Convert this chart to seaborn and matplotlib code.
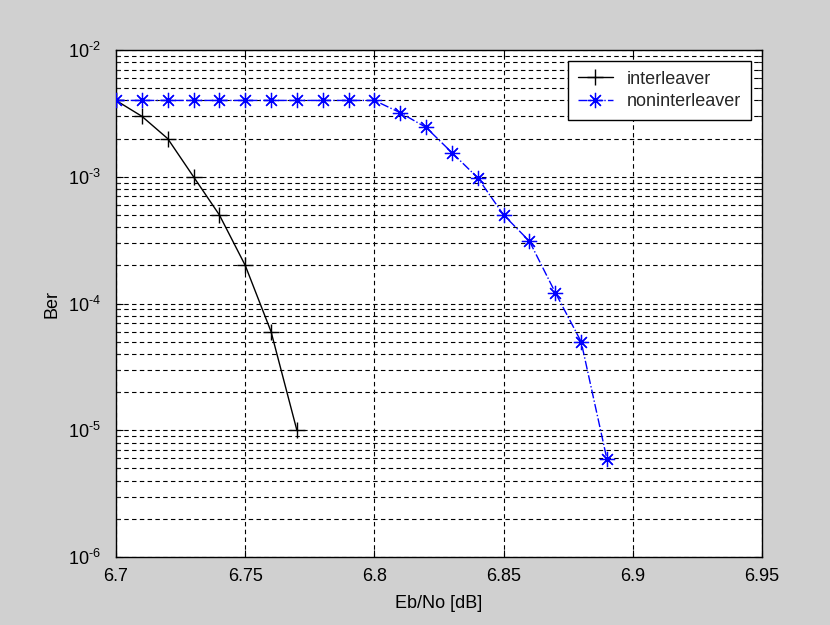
import numpy as np
import pandas as pd
import matplotlib
matplotlib.use("Agg")
import matplotlib.pyplot as plt
from matplotlib.ticker import (LogLocator, FixedLocator, FixedFormatter,
                               NullFormatter, FuncFormatter)
import seaborn as sns

# Eb/No sweep (dB) and measured bit error rates
ebno_inter = [6.70, 6.71, 6.72, 6.73, 6.74, 6.75, 6.76, 6.77]
ber_inter = [4.0e-3, 3.0e-3, 2.0e-3, 1.0e-3, 5.0e-4, 2.0e-4, 6.0e-5, 1.0e-5]

ebno_nointer = [6.70, 6.71, 6.72, 6.73, 6.74, 6.75, 6.76, 6.77, 6.78, 6.79,
                6.80, 6.81, 6.82, 6.83, 6.84, 6.85, 6.86, 6.87, 6.88, 6.89]
ber_nointer = [4.0e-3, 4.0e-3, 4.0e-3, 4.0e-3, 4.0e-3, 4.0e-3, 4.0e-3, 4.0e-3,
               4.0e-3, 4.0e-3, 4.0e-3, 3.2e-3, 2.45e-3, 1.55e-3, 9.8e-4,
               5.0e-4, 3.1e-4, 1.22e-4, 5.0e-5, 5.9e-6]

x_ticks = [6.70, 6.75, 6.80, 6.85, 6.90, 6.95]
x_tick_labels = ["6.7", "6.75", "6.8", "6.85", "6.9", "6.95"]

sns.set_theme(style="white")
plt.rcParams["font.family"] = ["Liberation Sans", "DejaVu Sans"]
plt.rcParams["mathtext.fontset"] = "custom"
plt.rcParams["mathtext.rm"] = "Liberation Sans"
plt.rcParams["mathtext.it"] = "Liberation Sans"
plt.rcParams["mathtext.bf"] = "Liberation Sans"

fig = plt.figure(figsize=(8.3, 6.25), dpi=100, facecolor="#d0d0d0")
ax = fig.add_axes([116 / 830, 1 - 557 / 625, (762 - 116) / 830, (557 - 50) / 625])
ax.set_facecolor("white")

df_inter = pd.DataFrame({"ebno": ebno_inter, "ber": ber_inter})
df_nointer = pd.DataFrame({"ebno": ebno_nointer, "ber": ber_nointer})

# asterisk marker: eight spokes, like a '+' laid over an 'x'
asterisk = (8, 2, 0)

sns.lineplot(data=df_inter, x="ebno", y="ber", ax=ax, color="black",
             marker="+", markersize=12, markeredgewidth=1.0,
             markeredgecolor="black", linewidth=1.0,
             label="interleaver", zorder=3)
sns.lineplot(data=df_nointer, x="ebno", y="ber", ax=ax, color="#0000ff",
             marker=asterisk, markersize=11, markeredgewidth=0.9,
             markeredgecolor="#0000ff", markerfacecolor="#0000ff",
             linewidth=1.0, linestyle="-.", label="noninterleaver", zorder=3)

ax.set_yscale("log")
ax.set_xlim(6.70, 6.95)
ax.set_ylim(1e-6, 1e-2)


def decade_label(val, pos):
    exp = int(round(np.log10(val)))
    sign = r"\text{-}" if exp < 0 else ""
    return r"$\mathdefault{10^{%s%d}}$" % (sign, abs(exp))


ax.xaxis.set_major_locator(FixedLocator(x_ticks))
ax.xaxis.set_major_formatter(FixedFormatter(x_tick_labels))
ax.yaxis.set_major_locator(LogLocator(base=10, numticks=10))
ax.yaxis.set_major_formatter(FuncFormatter(decade_label))
ax.yaxis.set_minor_locator(LogLocator(base=10, subs=np.arange(2, 10), numticks=100))
ax.yaxis.set_minor_formatter(NullFormatter())

grid_style = dict(color="black", linestyle=(0, (4, 3)), linewidth=0.8)
ax.grid(True, which="major", axis="both", **grid_style)
ax.grid(True, which="minor", axis="y", **grid_style)

ax.tick_params(axis="both", which="major", direction="in", length=5, width=0.8,
               labelsize=13, colors="black", top=True, right=True,
               bottom=True, left=True)
ax.tick_params(axis="x", which="major", pad=8)
ax.tick_params(axis="y", which="major", pad=11)
ax.tick_params(axis="y", which="minor", direction="in", length=3, width=0.8,
               left=True, right=True)

for sp in ax.spines.values():
    sp.set_color("black")
    sp.set_linewidth(1.0)
    sp.set_visible(True)

ax.set_xlabel("Eb/No [dB]", fontsize=13, color="black", labelpad=7)
ax.set_ylabel("Ber", fontsize=13, color="black", labelpad=5)

leg = ax.legend(loc="upper right", fontsize=13, frameon=True, fancybox=False,
                edgecolor="black", framealpha=1.0, borderaxespad=0.6,
                handlelength=1.9, labelspacing=0.3, borderpad=0.55,
                handletextpad=0.8, numpoints=1)
leg.get_frame().set_linewidth(1.0)

fig.savefig("out.png", dpi=100, facecolor=fig.get_facecolor())
